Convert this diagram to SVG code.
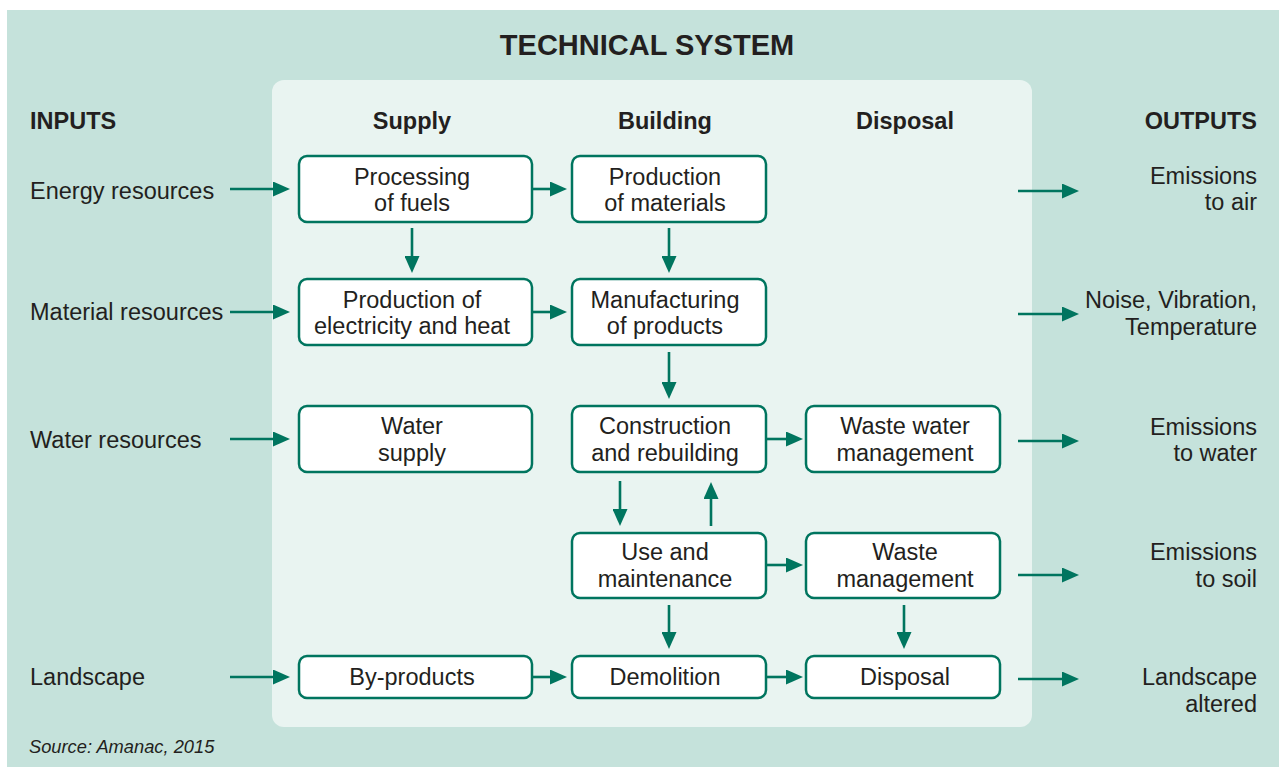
<svg xmlns="http://www.w3.org/2000/svg" width="1279" height="767" viewBox="0 0 1279 767">
<style>
text{font-family:"Liberation Sans",Arial,sans-serif;fill:#231f20}
.t{font-size:23.5px}
.c{text-anchor:middle}
.r{text-anchor:end}
.h{font-size:23.5px;font-weight:bold}
.box{fill:#fff;stroke:#00755f;stroke-width:2.5}
.ln{stroke:#00755f;stroke-width:2.6;fill:none;marker-end:url(#ah)}
</style>
<defs>
<marker id="ah" markerUnits="userSpaceOnUse" markerWidth="19" markerHeight="15" refX="2" refY="7.5" orient="auto"><path d="M0,0 L17,7.5 L0,15 z" fill="#00755f"/></marker>
</defs>
<rect x="0" y="0" width="1279" height="767" fill="#fff"/>
<rect x="7" y="10" width="1272" height="757" fill="#c5e2db"/>
<rect x="272" y="80" width="760" height="647" rx="12" fill="#e9f4f1"/>
<text x="647" y="55" class="c" style="font-size:29px;font-weight:bold">TECHNICAL SYSTEM</text>
<text x="30" y="129" class="h">INPUTS</text>
<text x="1257" y="129" class="h r">OUTPUTS</text>
<text x="412" y="129" class="h c">Supply</text>
<text x="665" y="129" class="h c">Building</text>
<text x="905" y="129" class="h c">Disposal</text>
<g id="inputs">
<text x="30" y="199" class="t">Energy resources</text>
<text x="30" y="320" class="t">Material resources</text>
<text x="30" y="448" class="t">Water resources</text>
<text x="30" y="685" class="t">Landscape</text>
</g>
<g id="outputs">
<text x="1257" y="184" class="t r">Emissions</text><text x="1257" y="210" class="t r">to air</text>
<text x="1257" y="308" class="t r">Noise, Vibration,</text><text x="1257" y="335" class="t r">Temperature</text>
<text x="1257" y="435" class="t r">Emissions</text><text x="1257" y="461" class="t r">to water</text>
<text x="1257" y="560" class="t r">Emissions</text><text x="1257" y="587" class="t r">to soil</text>
<text x="1257" y="685" class="t r">Landscape</text><text x="1257" y="712" class="t r">altered</text>
</g>
<g id="n-fuels"><rect x="299" y="156" width="233" height="66" rx="8" class="box"/><text x="412" y="185" class="t c">Processing</text><text x="412" y="211" class="t c">of fuels</text></g>
<g id="n-elec"><rect x="299" y="279" width="233" height="66" rx="8" class="box"/><text x="412" y="308" class="t c">Production of</text><text x="412" y="334" class="t c">electricity and heat</text></g>
<g id="n-water"><rect x="299" y="406" width="233" height="66" rx="8" class="box"/><text x="412" y="434" class="t c">Water</text><text x="412" y="461" class="t c">supply</text></g>
<g id="n-by"><rect x="299" y="656" width="233" height="42" rx="8" class="box"/><text x="412" y="685" class="t c">By-products</text></g>
<g id="n-mat"><rect x="572" y="156" width="194" height="66" rx="8" class="box"/><text x="665" y="185" class="t c">Production</text><text x="665" y="211" class="t c">of materials</text></g>
<g id="n-manu"><rect x="572" y="279" width="194" height="66" rx="8" class="box"/><text x="665" y="308" class="t c">Manufacturing</text><text x="665" y="334" class="t c">of products</text></g>
<g id="n-cons"><rect x="572" y="406" width="194" height="66" rx="8" class="box"/><text x="665" y="434" class="t c">Construction</text><text x="665" y="461" class="t c">and rebuilding</text></g>
<g id="n-use"><rect x="572" y="533" width="194" height="65" rx="8" class="box"/><text x="665" y="560" class="t c">Use and</text><text x="665" y="587" class="t c">maintenance</text></g>
<g id="n-demo"><rect x="572" y="656" width="194" height="42" rx="8" class="box"/><text x="665" y="685" class="t c">Demolition</text></g>
<g id="n-ww"><rect x="806" y="406" width="194" height="66" rx="8" class="box"/><text x="905" y="434" class="t c">Waste water</text><text x="905" y="461" class="t c">management</text></g>
<g id="n-wm"><rect x="806" y="533" width="194" height="65" rx="8" class="box"/><text x="905" y="560" class="t c">Waste</text><text x="905" y="587" class="t c">management</text></g>
<g id="n-disp"><rect x="806" y="656" width="194" height="42" rx="8" class="box"/><text x="905" y="685" class="t c">Disposal</text></g>
<g id="connectors">
<line x1="230" y1="189" x2="275" y2="189" class="ln"/>
<line x1="230" y1="312" x2="275" y2="312" class="ln"/>
<line x1="230" y1="439" x2="275" y2="439" class="ln"/>
<line x1="230" y1="677" x2="275" y2="677" class="ln"/>
<line x1="532" y1="189" x2="552" y2="189" class="ln"/>
<line x1="532" y1="312" x2="552" y2="312" class="ln"/>
<line x1="532" y1="677" x2="552" y2="677" class="ln"/>
<line x1="766" y1="439" x2="788" y2="439" class="ln"/>
<line x1="766" y1="565" x2="788" y2="565" class="ln"/>
<line x1="766" y1="677" x2="788" y2="677" class="ln"/>
<line x1="412" y1="228" x2="412" y2="258" class="ln"/>
<line x1="669" y1="228" x2="669" y2="258" class="ln"/>
<line x1="669" y1="352" x2="669" y2="384" class="ln"/>
<line x1="620" y1="481" x2="620" y2="511" class="ln"/>
<line x1="711" y1="526" x2="711" y2="497" class="ln"/>
<line x1="669" y1="605" x2="669" y2="634" class="ln"/>
<line x1="904" y1="605" x2="904" y2="634" class="ln"/>
<line x1="1018" y1="191" x2="1064" y2="191" class="ln"/>
<line x1="1018" y1="314" x2="1064" y2="314" class="ln"/>
<line x1="1018" y1="441" x2="1064" y2="441" class="ln"/>
<line x1="1018" y1="575" x2="1064" y2="575" class="ln"/>
<line x1="1018" y1="679" x2="1064" y2="679" class="ln"/>
</g>
<text x="29" y="753" style="font-size:18.3px;font-style:italic">Source: Amanac, 2015</text>
</svg>
